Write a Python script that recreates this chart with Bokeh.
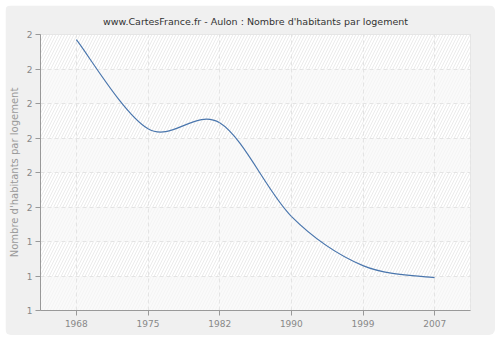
from bokeh.plotting import figure
from bokeh.models import FixedTicker, CustomJSTickFormatter, Range1d, ColumnDataSource
from bokeh.embed import file_html
from bokeh.resources import INLINE

years = ["1968", "1975", "1982", "1990", "1999", "2007"]
values = [1.985, 1.727, 1.744, 1.473, 1.330, 1.295]
y_ticks = [1.2, 1.3, 1.4, 1.5, 1.6, 1.7, 1.8, 1.9, 2.0]

xs = list(range(len(years)))

# Catmull-Rom spline rendered as cubic Bezier segments through the data points
def ext(i):
    i = max(0, min(len(xs) - 1, i))
    return xs[i], values[i]

bz = dict(x0=[], y0=[], x1=[], y1=[], cx0=[], cy0=[], cx1=[], cy1=[])
for i in range(len(xs) - 1):
    p0 = ext(i - 1); p1 = ext(i); p2 = ext(i + 1); p3 = ext(i + 2)
    bz["x0"].append(p1[0]); bz["y0"].append(p1[1])
    bz["x1"].append(p2[0]); bz["y1"].append(p2[1])
    bz["cx0"].append(p1[0] + (p2[0] - p0[0]) / 6); bz["cy0"].append(p1[1] + (p2[1] - p0[1]) / 6)
    bz["cx1"].append(p2[0] - (p3[0] - p1[0]) / 6); bz["cy1"].append(p2[1] - (p3[1] - p1[1]) / 6)

FONT = "DejaVu Sans"

p = figure(output_backend="svg", toolbar_location=None,
           x_range=Range1d(-0.5, len(years) - 0.5), y_range=Range1d(y_ticks[0], y_ticks[-1]),
           frame_width=430, frame_height=276,
           min_border_left=35, min_border_right=25, min_border_top=29, min_border_bottom=25,
           styles={"margin": "5px", "border-radius": "6px", "overflow": "hidden"})
p.border_fill_color = "#f0f0f0"
p.background_fill_color = "#fafafa"
p.outline_line_color = "#dddddd"

# alternating bands
band_bottoms = y_ticks[:-1]
hatched = [b for k, b in enumerate(reversed(band_bottoms)) if k % 2 == 0]
p.hbar(y=[b + 0.05 for b in hatched], height=0.1, left=-0.5, right=len(years) - 0.5,
       fill_color="#ffffff", line_color=None, hatch_pattern="/", hatch_color="#ebebeb",
       hatch_scale=6, hatch_weight=1, level="underlay")
flat = [b for k, b in enumerate(reversed(band_bottoms)) if k % 2 == 1]
p.hbar(y=[b + 0.05 for b in flat], height=0.1, left=-0.5, right=len(years) - 0.5,
       fill_color="#fafafa", line_color=None, hatch_pattern="/", hatch_color="#f4f4f4",
       hatch_scale=6, hatch_weight=1, level="underlay")

p.bezier(x0="x0", y0="y0", x1="x1", y1="y1", cx0="cx0", cy0="cy0", cx1="cx1", cy1="cy1",
         source=ColumnDataSource(bz), line_color="#4a76ad", line_width=1.2)

p.title.text = "www.CartesFrance.fr - Aulon : Nombre d'habitants par logement"
p.title.align = "center"
p.title.text_font = FONT
p.title.text_font_size = "9.5px"
p.title.text_font_style = "normal"
p.title.text_color = "#333333"
p.title.standoff = 16

p.xaxis.ticker = FixedTicker(ticks=xs)
p.xaxis.major_label_overrides = {i: y for i, y in enumerate(years)}
p.yaxis.ticker = FixedTicker(ticks=y_ticks)
p.yaxis.formatter = CustomJSTickFormatter(code="return Math.round(tick).toString();")
p.yaxis.axis_label = "Nombre d'habitants par logement"

for ax in (p.xaxis[0], p.yaxis[0]):
    ax.axis_line_color = "#999999"
    ax.major_tick_line_color = "#999999"
    ax.major_tick_out = 5
    ax.major_tick_in = 0
    ax.minor_tick_out = 0
    ax.minor_tick_in = 0
    ax.major_label_text_font = FONT
    ax.major_label_text_font_size = "9px"
    ax.major_label_text_color = "#888888"
    ax.axis_label_text_font = FONT
    ax.axis_label_text_font_size = "10px"
    ax.axis_label_text_font_style = "normal"
    ax.axis_label_text_color = "#999999"
p.xaxis.major_label_standoff = 4
p.yaxis.major_label_standoff = 3
p.yaxis.axis_label_standoff = 4

p.xgrid.ticker = FixedTicker(ticks=xs)
p.ygrid.ticker = FixedTicker(ticks=y_ticks)
p.grid.grid_line_color = "#e4e4e4"
p.grid.grid_line_dash = "4 3"
p.grid.grid_line_width = 1

open("out.html", "w").write(file_html(p, INLINE))
